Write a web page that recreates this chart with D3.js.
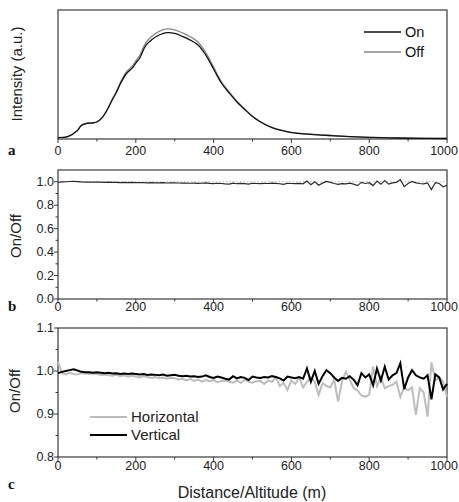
<!DOCTYPE html>
<html><head><meta charset="utf-8">
<script src="https://cdn.jsdelivr.net/npm/d3@7"></script>
<style>body{margin:0;background:#fff}svg{display:block}</style>
</head><body><svg id="c" width="459" height="502"></svg>
<script>
// ---- Data ----
const distA = [0,25,50,60,75,90,100,112,125,140,150,160,175,190,200,210,225,240,260,280,300,320,340,360,380,400,420,440,460,480,500,525,550,575,600,650,700,750,800,850,900,1000];
const intensityOn = [0.010,0.018,0.066,0.105,0.122,0.124,0.132,0.160,0.217,0.306,0.360,0.426,0.504,0.547,0.589,0.628,0.721,0.767,0.806,0.824,0.818,0.795,0.767,0.729,0.651,0.543,0.434,0.357,0.287,0.229,0.174,0.124,0.089,0.066,0.050,0.036,0.027,0.019,0.013,0.009,0.006,0.004];
const intensityOff = [0.010,0.018,0.067,0.107,0.124,0.126,0.134,0.163,0.221,0.312,0.368,0.436,0.517,0.562,0.606,0.647,0.743,0.792,0.834,0.853,0.846,0.823,0.793,0.752,0.670,0.557,0.445,0.365,0.293,0.233,0.177,0.126,0.090,0.067,0.051,0.037,0.027,0.019,0.013,0.009,0.006,0.004];

const distC = d3.range(0, 1001, 10);
const vertical = [0.995,0.998,1.000,1.002,1.004,1.001,0.998,0.997,0.997,0.996,0.997,0.996,0.995,0.996,0.994,0.995,0.993,0.994,0.993,0.994,0.993,0.992,0.993,0.991,0.992,0.991,0.990,0.992,0.989,0.990,0.991,0.989,0.988,0.989,0.987,0.988,0.986,0.987,0.990,0.986,0.984,0.987,0.985,0.982,0.980,0.988,0.983,0.986,0.984,0.979,0.987,0.985,0.984,0.986,0.985,0.988,0.986,0.983,0.978,0.987,0.985,0.983,0.986,0.982,1.006,0.975,1.000,0.970,0.988,1.002,0.995,0.985,0.977,0.984,0.982,0.988,0.980,0.967,0.995,0.985,0.992,0.967,1.006,0.978,1.010,0.980,0.990,0.995,1.018,0.958,0.985,1.002,0.990,0.985,0.982,0.990,0.934,0.992,0.985,0.957,0.970];
const horizontal = [1.022,0.995,0.992,0.996,0.993,0.992,0.995,0.994,0.993,0.994,0.993,0.991,0.992,0.990,0.989,0.991,0.988,0.990,0.987,0.989,0.987,0.985,0.988,0.986,0.984,0.986,0.983,0.985,0.982,0.984,0.983,0.980,0.982,0.978,0.981,0.977,0.980,0.975,0.979,0.976,0.979,0.974,0.977,0.978,0.975,0.973,0.978,0.972,0.980,0.975,0.973,0.976,0.977,0.970,0.978,0.975,0.985,0.965,0.972,0.956,0.978,0.970,0.985,0.962,0.975,0.985,0.975,0.944,0.972,0.965,0.962,0.980,0.929,0.975,0.998,0.980,0.960,0.955,0.943,0.940,0.945,1.010,0.965,0.985,0.960,0.965,0.968,0.975,0.940,0.962,0.955,0.962,0.898,0.960,0.950,0.894,1.020,0.978,0.985,0.975,0.940];
const ratioB = vertical;

const xTicks = [0,200,400,600,800,1000];
const xMinor = [100,300,500,700,900];
const yTicksB = [0.0,0.2,0.4,0.6,0.8,1.0];
const yMinorB = [0.1,0.3,0.5,0.7,0.9];
const yTicksC = [0.8,0.9,1.0,1.1];
const yMinorC = [0.85,0.95,1.05];

// ---- Layout ----
const svg = d3.select("#c");
const W = 459;
const L = 58, R = 447;
const x = d3.scaleLinear().domain([0,1000]).range([L,R]);
const font = "Liberation Sans, Arial, sans-serif";
const axisCol = "#3a3a3a";

function panel(top, bottom, yDomain, yMajor, yMinor, yFmt, labelOff) {
  const y = d3.scaleLinear().domain(yDomain).range([bottom, top]);
  const g = svg.append("g");
  g.append("rect").attr("x", L).attr("y", top).attr("width", R-L).attr("height", bottom-top)
    .attr("fill","none").attr("stroke",axisCol).attr("stroke-width",1.2);
  xTicks.forEach(t => g.append("line").attr("x1",x(t)).attr("x2",x(t)).attr("y1",bottom).attr("y2",bottom+4).attr("stroke",axisCol));
  xMinor.forEach(t => g.append("line").attr("x1",x(t)).attr("x2",x(t)).attr("y1",bottom).attr("y2",bottom+2.5).attr("stroke",axisCol));
  xTicks.forEach(t => {
    const txt = g.append("text").attr("x",x(t)).attr("y",bottom+labelOff).attr("text-anchor","middle")
      .attr("font-family",font).attr("font-size",12.5).attr("fill","#222").text(t);
    const bb = txt.node().getBBox();
    if (bb.x + bb.width > W - 1) txt.attr("x", W - 1 - bb.width/2);
  });
  yMajor.forEach(t => {
    g.append("line").attr("x1",L-4).attr("x2",L).attr("y1",y(t)).attr("y2",y(t)).attr("stroke",axisCol);
    g.append("text").attr("x",L-4).attr("y",y(t)+4).attr("text-anchor","end")
      .attr("font-family",font).attr("font-size",12.5).attr("fill","#222").text(yFmt(t));
  });
  yMinor.forEach(t => g.append("line").attr("x1",L-2.5).attr("x2",L).attr("y1",y(t)).attr("y2",y(t)).attr("stroke",axisCol));
  return {g, y};
}

// Panel a
const pa = panel(10, 139, [0,1], [], [], d=>d, 16);
const lineA = d3.line().x((d,i)=>x(distA[i])).y(d=>pa.y(d)).curve(d3.curveCatmullRom);
pa.g.append("path").datum(intensityOff).attr("d",lineA).attr("fill","none").attr("stroke","#8a8a8a").attr("stroke-width",1.3);
pa.g.append("path").datum(intensityOn).attr("d",lineA).attr("fill","none").attr("stroke","#111").attr("stroke-width",1.3);
// legend a
[["On","#111",32],["Off","#8a8a8a",52]].forEach(([t,c,yy]) => {
  pa.g.append("line").attr("x1",364).attr("x2",401).attr("y1",yy).attr("y2",yy).attr("stroke",c).attr("stroke-width",1.3);
  pa.g.append("text").attr("x",405).attr("y",yy+5).attr("font-family",font).attr("font-size",14.5).attr("fill","#111").text(t);
});

// Panel b
const pb = panel(170, 299, [0,1.1], yTicksB, yMinorB, d3.format(".1f"), 12);
pb.g.append("line").attr("x1",L).attr("x2",R).attr("y1",pb.y(1.0)).attr("y2",pb.y(1.0))
  .attr("stroke","#bbb").attr("stroke-width",1).attr("stroke-dasharray","1.5,2");
const lineB = d3.line().x((d,i)=>x(distC[i])).y(d=>pb.y(d));
pb.g.append("path").datum(ratioB).attr("d",lineB).attr("fill","none").attr("stroke","#2a2a2a").attr("stroke-width",1.2);

// Panel c
const pc = panel(328, 457, [0.8,1.1], yTicksC, yMinorC, d3.format(".1f"), 13);
const lineC = d3.line().x((d,i)=>x(distC[i])).y(d=>pc.y(d));
pc.g.append("path").datum(horizontal).attr("d",lineC).attr("fill","none").attr("stroke","#bdbdbd").attr("stroke-width",2);
pc.g.append("path").datum(vertical).attr("d",lineC).attr("fill","none").attr("stroke","#000").attr("stroke-width",2);
[["Horizontal","#bdbdbd",417],["Vertical","#000",435]].forEach(([t,c,yy]) => {
  pc.g.append("line").attr("x1",90).attr("x2",127).attr("y1",yy).attr("y2",yy).attr("stroke",c).attr("stroke-width",2);
  pc.g.append("text").attr("x",131).attr("y",yy+5).attr("font-family",font).attr("font-size",15).attr("fill","#222").text(t);
});

// Axis titles
function vtitle(t, cx, cy) {
  svg.append("text").attr("transform",`translate(${cx},${cy}) rotate(-90)`).attr("text-anchor","middle")
    .attr("font-family",font).attr("font-size",15).attr("fill","#222").text(t);
}
vtitle("Intensity (a.u.)", 22, 74);
vtitle("On/Off", 21, 236);
vtitle("On/Off", 20, 391);
svg.append("text").attr("x",252).attr("y",498).attr("text-anchor","middle")
  .attr("font-family",font).attr("font-size",16).attr("fill","#222").text("Distance/Altitude (m)");

// Panel letters
[["a",155],["b",311],["c",489]].forEach(([t,yy]) => {
  svg.append("text").attr("x",8).attr("y",yy).attr("font-family","Liberation Serif, Times New Roman, serif")
    .attr("font-weight","bold").attr("font-size",15).attr("fill","#111").text(t);
});
</script></body></html>
